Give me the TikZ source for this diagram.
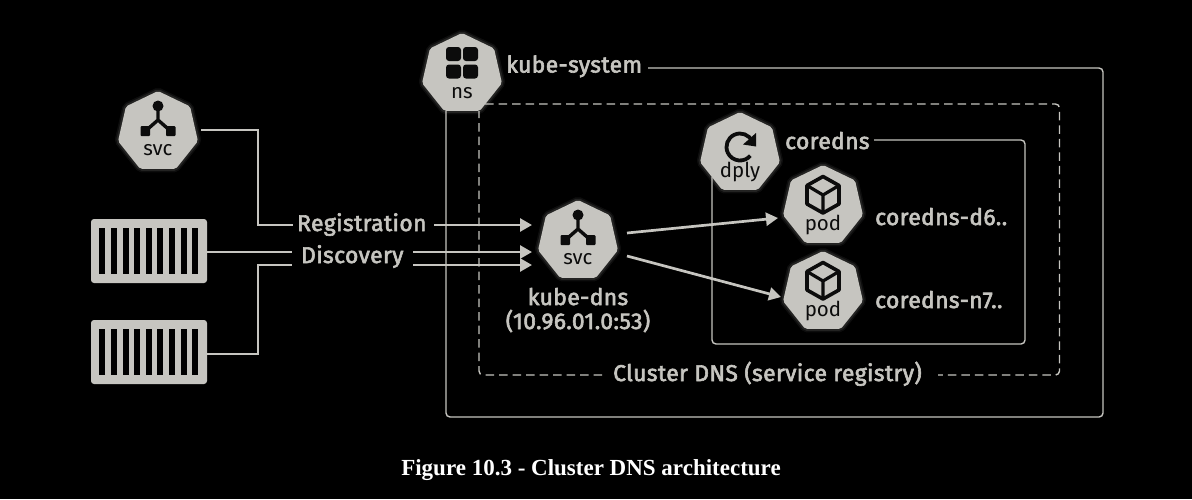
\documentclass[tikz,border=0pt]{standalone}
\usepackage{fontspec}
\usetikzlibrary{shapes.geometric,arrows.meta,calc}
\setmainfont{Liberation Serif}
\newfontfamily\labfont[FakeBold=2.6,LetterSpace=1.8]{Fira Sans}
\newfontfamily\iconfont{Fira Sans}
\definecolor{ink}{HTML}{C6C5C0}
\definecolor{dark}{HTML}{0C0C0C}
\tikzset{
  x=1pt,y=-1pt,
  hep/.style={regular polygon,regular polygon sides=7,minimum size=82pt,inner sep=0pt,outer sep=0pt,fill=ink,rounded corners=2pt,
    preaction={draw=ink,line width=7pt,draw opacity=.07},
    preaction={draw=ink,line width=4pt,draw opacity=.12}},
  icontext/.style={anchor=base,inner sep=0pt,text=dark,font=\iconfont\fontsize{20.5}{20}\selectfont},
  lab/.style={anchor=base west,inner sep=0pt,text=ink,font=\labfont\fontsize{22.8}{24}\selectfont},
  wire/.style={draw=ink,line width=2.7pt},
  flow/.style={wire,-{Triangle[length=12pt,width=13pt]}},
  frame/.style={draw=ink,line width=1.4pt,rounded corners=4pt},
  dashframe/.style={frame,dash pattern=on 8.5pt off 5pt},
  box/.style={fill=ink,rounded corners=3pt,inner sep=0pt,outer sep=0pt,minimum width=116pt,minimum height=64pt},
  slat/.style={fill=black}
}
\newcommand{\svcicon}[1]{\begin{scope}[shift={(#1)}]
  \draw[dark,line width=3.4pt] (0,-26)--(0,-12)--(-12.5,-1) (0,-12)--(12.5,-1);
  \fill[dark] (0,-26) circle (5.5);
  \fill[dark,rounded corners=1pt] (-17.5,-6) rectangle (-8,4);
  \fill[dark,rounded corners=1pt] (8,-6) rectangle (17.5,4);
\end{scope}}
\newcommand{\podicon}[1]{\begin{scope}[shift={(#1)}]
  \draw[dark,line width=3.6pt,line join=round] (0,-29.5)--(16,-20.5)--(16,-2)--(0,7)--(-16,-2)--(-16,-20.5)--cycle;
  \draw[dark,line width=3.2pt,line join=round] (-16,-20.5)--(0,-11)--(16,-20.5) (0,-11)--(0,7);
\end{scope}}
\newcommand{\slats}[1]{\begin{scope}[shift={(#1)}]
  \foreach \k in {0,...,8}{\fill[slat] ({-49.7+\k*11.6},-23) rectangle ({-43.7+\k*11.6},22.5);}
\end{scope}}
\begin{document}
\begin{tikzpicture}
\useasboundingbox (0,0) rectangle (1192,499);
\fill[black] (0,0) rectangle (1192,499);

% hexagon-family nodes
\node[hep] (svcA) at (158,132) {};
\node[hep] (ns) at (462,74) {};
\node[hep] (dply) at (740,153) {};
\node[hep] (podA) at (823,206) {};
\node[hep] (podB) at (823,292) {};
\node[hep] (kdns) at (578,241) {};
\node[box] (ctrA) at (149,251) {};
\node[box] (ctrB) at (149,352) {};

% labels
\node[lab] (lsys) at (506,72.5) {kube-system};
\node[lab] (lcore) at (785,149) {coredns};
\node[lab] (lpa) at (875,225) {coredns-d6..};
\node[lab] (lpb) at (875,308) {coredns-n7..};
\node[lab] (reg) at (297,231) {Registration};
\node[lab] (dis) at (301,263) {Discovery};
\node[lab,anchor=base] (lkd) at (578,305) {kube-dns};
\node[lab,anchor=base] (lip) at (578,329) {(10.96.01.0:53)};
\node[lab] (lcl) at (613,381) {Cluster DNS (service registry)};
\node[anchor=base,inner sep=0pt,text=white,font=\bfseries\fontsize{23}{24}\selectfont] (cap) at (591,475) {Figure 10.3 - Cluster DNS architecture};

% frames
\coordinate (sysA) at (648,68);
\coordinate (sysBR) at (1103,417);
\coordinate (dnsA) at (485,104);
\coordinate (dnsB) at (938,375);
\coordinate (dnsC) at (602,375);
\coordinate (coreA) at (874,140);
\coordinate (coreBR) at (1025,344);
\draw[frame] (sysA) -| (sysBR) -| ($(ns)+(-16,37)$);
\draw[dashframe] (dnsA) -| (1059.5,375) -- (dnsB);
\draw[dashframe] (dnsC) -| ($(ns)+(17,37)$);
\draw[frame] (coreA) -| (coreBR) -| ($(dply)+(-28,24)$);

% connectors
\coordinate (busA) at (258,225);
\coordinate (regIn) at (293,225);
\coordinate (disA) at (292,252);
\coordinate (disB) at (292,265);
\coordinate (ctrAout) at (207,252);
\coordinate (ctrBout) at (207,354);
\draw[wire] ($(svcA)+(43,-2)$) -| (busA) -- (regIn);
\draw[wire] (ctrAout) -- (disA);
\draw[wire] (ctrBout) -| (258,265) -- (disB);
\draw[flow] (434,225) -- ($(kdns)+(-46,-16)$);
\draw[flow] (413,252) -- ($(kdns)+(-46,11)$);
\draw[flow] (413,265) -- ($(kdns)+(-46,24)$);
\draw[flow] ($(kdns)+(49,-8)$) -- ($(podA)+(-45,12)$);
\draw[flow] ($(kdns)+(49,15)$) -- ($(podB)+(-42,5)$);

% icons
\svcicon{svcA}
\svcicon{kdns}
\podicon{podA}
\podicon{podB}
\slats{ctrA}
\slats{ctrB}
\begin{scope}[shift={(ns)}]
  \foreach \xa/\ya in {-16/-27,1/-27,-16/-9.5,1/-9.5}{\fill[dark,rounded corners=3pt] (\xa,\ya) rectangle ++(15,14);}
\end{scope}
\begin{scope}[shift={(dply)}]
  \draw[dark,line width=3.8pt] (0,-6)++(-25:13.5) arc[start angle=-25,end angle=-320,radius=13.5];
  \fill[dark] (16,-20) -- (16,-6.5) -- (3,-8.5) -- cycle;
\end{scope}
\node[icontext] (tsvcA) at ($(svcA)+(0,23)$) {svc};
\node[icontext] (tkdns) at ($(kdns)+(0,23)$) {svc};
\node[icontext] (tns) at ($(ns)+(0,24)$) {ns};
\node[icontext] (tdply) at ($(dply)+(0,24)$) {dply};
\node[icontext] (tpodA) at ($(podA)+(0,24)$) {pod};
\node[icontext] (tpodB) at ($(podB)+(0,24)$) {pod};
\end{tikzpicture}
\end{document}
